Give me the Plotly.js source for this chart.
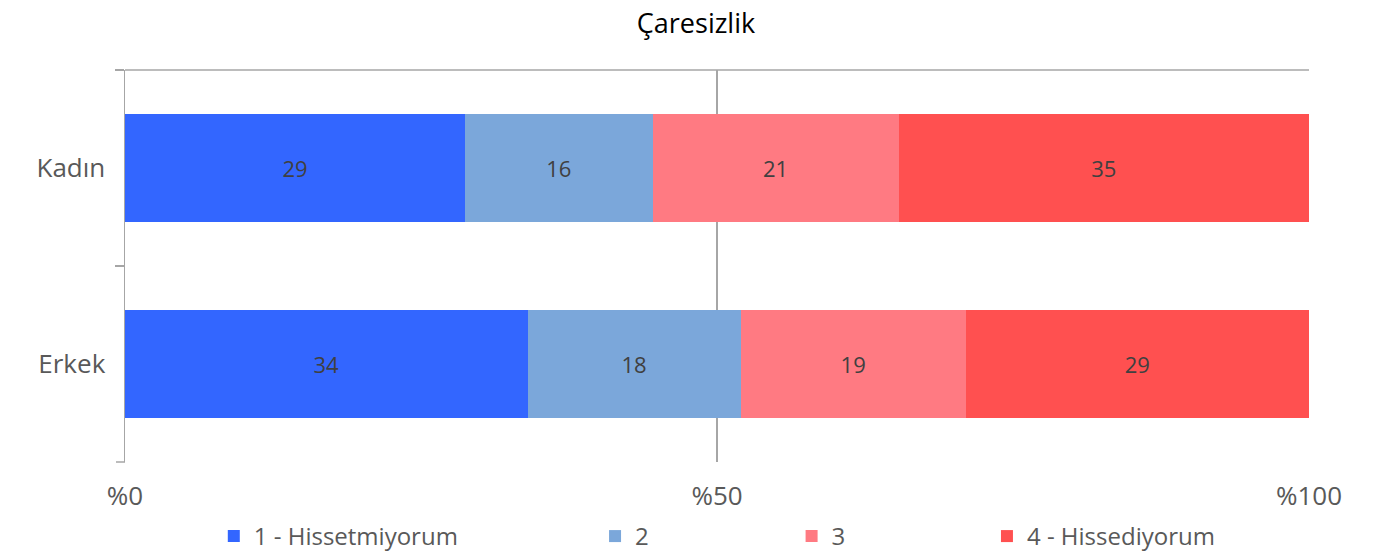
<!DOCTYPE html>
<html>
<head>
<meta charset="utf-8">
<script src="https://cdn.plot.ly/plotly-3.0.1.min.js"></script>
<style>html,body{margin:0;padding:0;background:#fff}#chart{width:1392px;height:556px}</style>
</head>
<body>
<div id="chart"></div>
<script>
const categories = ['Kadın', 'Erkek'];
const seriesNames = ['1 - Hissetmiyorum', '2', '3', '4 - Hissediyorum'];
const s1 = [29, 34];
const s2 = [16, 18];
const s3 = [21, 19];
const s4 = [35, 29];
const tickVals = [0, 50, 100];
const tickLabels = ['%0', '%50', '%100'];
const colors = ['#3366FF', '#7BA7DA', '#FF7A82', '#FF5050'];

const allSeries = [s1, s2, s3, s4];
const legendIds = ['legend', 'legend2', 'legend3', 'legend4'];
const legendX = [0.075, 0.397, 0.563, 0.728];

const FONT = 'Open Sans, sans-serif';

const traces = allSeries.map((vals, i) => ({
  type: 'bar',
  orientation: 'h',
  name: seriesNames[i],
  y: categories,
  x: vals,
  text: vals.map(String),
  texttemplate: '%{text}',
  textposition: 'inside',
  insidetextanchor: 'middle',
  textfont: {family: FONT, size: 22, color: '#404040'},
  marker: {color: colors[i], line: {width: 0}},
  legend: legendIds[i],
  hoverinfo: 'skip'
}));

const layout = {
  width: 1392,
  height: 556,
  margin: {l: 125, r: 83, t: 70, b: 94, autoexpand: false},
  paper_bgcolor: '#ffffff',
  plot_bgcolor: '#ffffff',
  font: {family: FONT, color: '#595959'},
  title: {text: 'Çaresizlik', font: {family: FONT, size: 27, color: '#000000'}, x: 0.5, xanchor: 'center', y: 0.957, yanchor: 'middle'},
  barmode: 'stack',
  barnorm: 'percent',
  bargap: 0.45,
  showlegend: true,
  xaxis: {
    range: [0, 100],
    tickvals: tickVals,
    ticktext: tickLabels,
    showgrid: true,
    gridcolor: '#A6A6A6',
    gridwidth: 1.5,
    zeroline: false,
    showline: false,
    ticks: '',
    ticklabelstandoff: 16,
    tickfont: {family: FONT, size: 26, color: '#595959'},
    fixedrange: true
  },
  yaxis: {
    type: 'category',
    autorange: 'reversed',
    showline: true,
    linecolor: '#A6A6A6',
    linewidth: 1.5,
    ticks: 'outside',
    tickson: 'boundaries',
    ticklen: 9,
    tickcolor: '#A6A6A6',
    tickwidth: 1.5,
    showgrid: false,
    ticklabelstandoff: 13,
    tickfont: {family: FONT, size: 26, color: '#595959'},
    fixedrange: true
  },
  shapes: [{
    type: 'line', xref: 'paper', yref: 'paper', x0: 0, x1: 1, y0: 1, y1: 1,
    line: {color: '#A6A6A6', width: 1.5}, layer: 'below'
  }, {
    type: 'line', xref: 'paper', yref: 'paper', x0: -9 / 1184, x1: 0, y0: 0, y1: 0,
    line: {color: '#A6A6A6', width: 1.5}, layer: 'above'
  }]
};

legendIds.forEach((id, i) => {
  layout[id] = {
    orientation: 'h',
    x: legendX[i], xanchor: 'left',
    y: -0.19, yanchor: 'middle',
    bgcolor: 'rgba(0,0,0,0)',
    font: {family: FONT, size: 24, color: '#595959'},
    itemwidth: 30
  };
});

Plotly.newPlot('chart', traces, layout, {displayModeBar: false, staticPlot: true});
</script>
</body>
</html>
